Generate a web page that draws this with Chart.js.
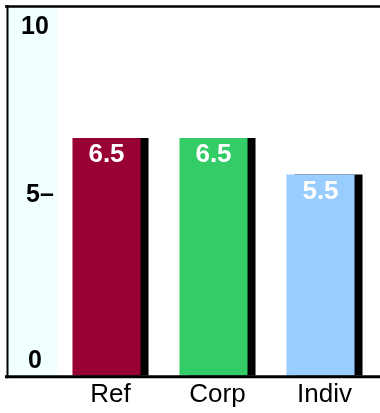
<!DOCTYPE html>
<html>
<head>
<meta charset="utf-8">
<script src="https://cdn.jsdelivr.net/npm/chart.js@4"></script>
<style>
  html, body { margin: 0; padding: 0; background: #fff; }
  #wrap { width: 380px; height: 413px; position: relative; }
</style>
</head>
<body>
<div id="wrap"><canvas id="scoreChart"></canvas></div>
<script>
const categories = ['Ref', 'Corp', 'Indiv'];
const scores = [6.5, 6.5, 5.5];
const barColors = ['#990033', '#33cc66', '#99ccff'];
const yTickValues = [0, 5, 10];
const yTickLabels = ['0', '5–', '10'];

const FONT = '"Liberation Sans", Arial, sans-serif';

// band behind the y axis, drop shadows on the bars, value labels, frame lines
const decorations = {
    id: 'decorations',
    beforeDraw(chart) {
        const { ctx, chartArea } = chart;
        const y = chart.scales.y;
        ctx.save();
        ctx.fillStyle = '#f0ffff';
        ctx.fillRect(y.left, 6, y.width, chartArea.bottom - 6);
        ctx.restore();
    },
    beforeDatasetsDraw(chart) {
        const ctx = chart.ctx;
        ctx.save();
        ctx.translate(-4, 0);
        ctx.shadowColor = '#000';
        ctx.shadowOffsetX = 8;
        ctx.shadowOffsetY = 0;
        ctx.shadowBlur = 0;
    },
    afterDatasetsDraw(chart) {
        const ctx = chart.ctx;
        ctx.shadowColor = 'rgba(0,0,0,0)';
        ctx.shadowOffsetX = 0;
        ctx.font = 'bold 26px ' + FONT;
        ctx.fillStyle = '#fff';
        ctx.textAlign = 'center';
        ctx.textBaseline = 'top';
        chart.getDatasetMeta(0).data.forEach((bar, i) => {
            ctx.fillText(scores[i].toFixed(1), bar.x, bar.y + 4);
        });
        ctx.restore();
    },
    afterDraw(chart) {
        const { ctx, chartArea } = chart;
        const y = chart.scales.y;
        ctx.save();
        ctx.font = 'bold 25px ' + FONT;
        ctx.fillStyle = '#000';
        ctx.textAlign = 'center';
        ctx.textBaseline = 'middle';
        yTickValues.forEach((v, i) => {
            const py = y.getPixelForValue(v);
            let dy = 2, dx = 0;
            if (v === y.max) dy = 17;
            if (v === y.min) dy = -15;
            if (yTickLabels[i].endsWith('–')) dx = 5;
            ctx.fillText(yTickLabels[i], 35 + dx, py + dy);
        });

        ctx.strokeStyle = '#000';
        ctx.lineWidth = 2.5;
        ctx.beginPath();
        ctx.moveTo(5, 6.5);
        ctx.lineTo(380, 6.5);
        ctx.stroke();
        ctx.lineWidth = 3;
        ctx.beginPath();
        ctx.moveTo(5, chartArea.bottom + 1);
        ctx.lineTo(380, chartArea.bottom + 1);
        ctx.stroke();
        ctx.lineWidth = 2;
        ctx.beginPath();
        ctx.moveTo(7.5, 5);
        ctx.lineTo(7.5, chartArea.bottom + 2.5);
        ctx.stroke();
        ctx.restore();
    }
};

new Chart(document.getElementById('scoreChart').getContext('2d'), {
    type: 'bar',
    data: {
        labels: categories,
        datasets: [{
            data: scores,
            backgroundColor: barColors,
            borderWidth: 0,
            categoryPercentage: 1,
            barPercentage: 0.636
        }]
    },
    options: {
        responsive: true,
        maintainAspectRatio: false,
        animation: false,
        layout: { padding: { left: 8, right: 2, top: 10, bottom: 0 } },
        scales: {
            x: {
                grid: { display: false, drawTicks: false },
                border: { display: false },
                ticks: { color: '#000', padding: 3, font: { family: FONT, size: 26 } }
            },
            y: {
                min: 0,
                max: 10,
                grid: { display: false, drawTicks: false },
                border: { display: false },
                ticks: { display: false },
                afterFit(scale) { scale.width = 49; }
            }
        },
        plugins: {
            legend: { display: false },
            tooltip: { enabled: false }
        }
    },
    plugins: [decorations]
});
</script>
</body>
</html>
